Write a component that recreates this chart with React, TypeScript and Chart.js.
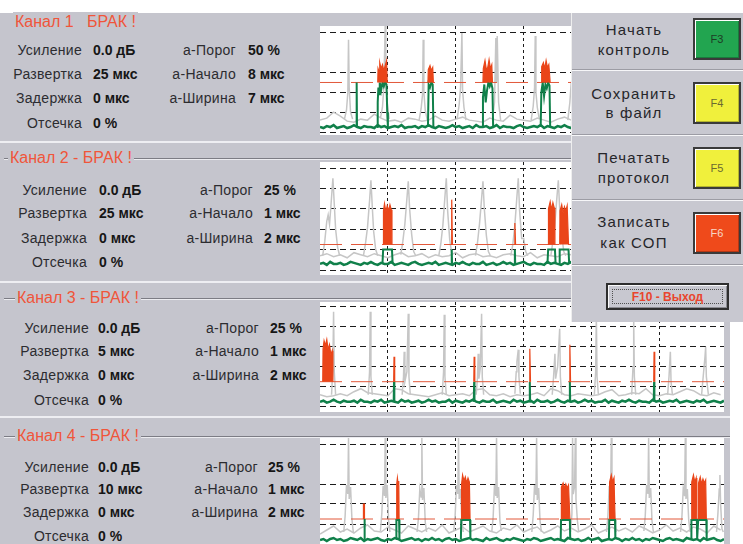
import React, { useEffect, useRef } from "react";
import { Chart, registerables } from "chart.js";

Chart.register(...registerables);

type Pt = [number, number];

// ---------------- data ----------------
const X_MAX = 5.95;
const xGridTicks = [1, 2, 3, 4, 5];
const yGridTicksFull = [0, 20, 40, 60, 80, 100];
const yGridTicksNo80 = [0, 20, 40, 60, 100];
const GRAY_STEP = 0.1;
const GREEN_STEP = 0.05;

// Channel 1
const ch1Threshold = 50;
const ch1GrayNoise = [12, 14, 20, 16, 11, 10, 13, 12, 18, 14, 11, 12, 10, 14, 13, 11, 12, 16, 12, 11, 13, 15, 12, 11, 10, 14, 12, 11, 17, 13, 12, 11, 14, 12, 10, 13, 15, 12, 11];
const ch1GrayPeaks: Pt[][] = [
  [[0.36, 13], [0.39, 22], [0.41, 40], [0.42, 93], [0.43, 45], [0.45, 20], [0.48, 13]],
  [[0.89, 14], [0.92, 25], [0.94, 45], [0.96, 107], [0.97, 50], [0.99, 30], [1.02, 13]],
  [[1.46, 12], [1.49, 24], [1.51, 38], [1.52, 93], [1.53, 40], [1.55, 22], [1.58, 12]],
  [[2.02, 13], [2.05, 28], [2.07, 45], [2.09, 100], [2.1, 42], [2.12, 25], [2.15, 12]],
  [[2.54, 13], [2.57, 30], [2.59, 95], [2.6, 50], [2.61, 97], [2.63, 30], [2.66, 12]],
  [[3.11, 12], [3.14, 26], [3.16, 45], [3.17, 97], [3.18, 40], [3.2, 25], [3.23, 13]],
  [[3.65, 12], [3.68, 30], [3.7, 50], [3.71, 100], [3.72, 45], [3.75, 20], [3.78, 12]],
];
const ch1GreenNoise = [5, 4, 6, 5, 7, 4, 5, 6, 4, 5, 7, 5, 4, 6, 5, 5, 4, 7, 5, 6, 4, 5, 6, 5, 7, 4, 5, 5, 6, 4, 6, 5, 7, 5, 4, 6, 5, 4, 5, 7, 5, 6, 4, 5, 6, 4, 7, 5, 5, 6, 4, 5, 7, 4, 6, 5, 5, 4, 6, 7, 5, 4, 5, 6, 5, 7, 4, 6, 5, 4, 6, 5, 7, 5, 4, 6];
const ch1GreenPulses: Pt[][] = [
  [[0.535, 5], [0.54, 50], [0.545, 5]],
  [[0.84, 5], [0.85, 30], [0.86, 45], [0.87, 38], [0.88, 50], [0.9, 42], [0.92, 50], [0.94, 46], [0.96, 50], [0.98, 48], [0.99, 20], [1.0, 5]],
  [[1.59, 5], [1.6, 48], [1.62, 45], [1.64, 50], [1.66, 48], [1.67, 5]],
  [[2.39, 5], [2.4, 35], [2.42, 48], [2.44, 30], [2.46, 42], [2.48, 50], [2.5, 46], [2.52, 50], [2.54, 44], [2.55, 5]],
  [[3.25, 5], [3.26, 40], [3.28, 50], [3.3, 36], [3.32, 48], [3.34, 44], [3.36, 50], [3.38, 47], [3.39, 5]],
  [[3.71, 5], [3.72, 48], [3.8, 48]],
];
const ch1RedBlobs: Pt[][] = [
  [[0.85, 50], [0.855, 64], [0.87, 61], [0.88, 70], [0.9, 64], [0.92, 68], [0.94, 62], [0.96, 67], [0.98, 72], [0.99, 50]],
  [[1.59, 50], [1.595, 63], [1.62, 67], [1.64, 62], [1.66, 65], [1.67, 50]],
  [[2.4, 50], [2.405, 64], [2.43, 72], [2.45, 63], [2.47, 65], [2.49, 73], [2.51, 64], [2.53, 68], [2.54, 50]],
  [[3.26, 50], [3.265, 66], [3.29, 70], [3.31, 64], [3.33, 72], [3.35, 65], [3.37, 68], [3.39, 50]],
  [[3.72, 50], [3.725, 62], [3.76, 66], [3.8, 60]],
];

// Channel 2
const ch2Threshold = 25;
const ch2GrayNoise = [14, 16, 13, 15, 12, 17, 15, 13, 16, 14, 12, 15, 17, 13, 14, 16, 12, 15, 13, 14, 17, 12, 15, 16, 13, 14, 12, 15, 16, 14, 13, 17, 12, 15, 14, 13, 16, 15, 14];
const ch2GrayPeaks: Pt[][] = [
  [[0.04, 14], [0.07, 28], [0.1, 48], [0.12, 54], [0.14, 45], [0.16, 62], [0.19, 90], [0.21, 65], [0.23, 40], [0.26, 22], [0.29, 14]],
  [[0.64, 14], [0.67, 26], [0.7, 42], [0.73, 68], [0.75, 88], [0.77, 62], [0.79, 38], [0.82, 20], [0.85, 14]],
  [[1.19, 15], [1.22, 28], [1.25, 45], [1.28, 70], [1.3, 87], [1.32, 60], [1.35, 35], [1.38, 18], [1.41, 14]],
  [[1.75, 14], [1.78, 26], [1.81, 44], [1.84, 72], [1.86, 90], [1.88, 58], [1.91, 30], [1.94, 16]],
  [[2.29, 14], [2.32, 27], [2.35, 46], [2.38, 70], [2.4, 87], [2.42, 60], [2.45, 34], [2.48, 18], [2.51, 14]],
  [[2.81, 14], [2.84, 25], [2.87, 44], [2.9, 72], [2.92, 90], [2.94, 58], [2.97, 31], [3.0, 31], [3.03, 18], [3.06, 14]],
  [[3.4, 14], [3.43, 28], [3.46, 46], [3.49, 72], [3.51, 88], [3.53, 60], [3.56, 35], [3.59, 18], [3.62, 14]],
];
const ch2GreenNoise = [6, 7, 5, 8, 6, 6, 7, 5, 6, 8, 7, 6, 5, 7, 6, 8, 6, 5, 7, 6, 6, 8, 5, 6, 7, 6, 5, 7, 8, 6, 5, 6, 7, 6, 8, 5, 6, 7, 6, 5, 7, 6, 8, 6, 5, 7, 6, 6, 8, 5, 6, 7, 5, 6, 8, 6, 7, 5, 6, 7, 8, 6, 5, 7, 6, 6, 5, 8, 6, 7, 6, 5, 7, 6, 8, 6];
const ch2GreenPulses: Pt[][] = [
  [[0.92, 6], [0.93, 20], [1.06, 20], [1.07, 6]],
  [[1.935, 6], [1.94, 20], [1.945, 6]],
  [[2.865, 6], [2.87, 20], [2.875, 6]],
  [[3.35, 6], [3.36, 20], [3.46, 20], [3.47, 6]],
  [[3.52, 6], [3.53, 20], [3.66, 20], [3.67, 6]],
];
const ch2RedBlobs: Pt[][] = [
  [[0.93, 25], [0.935, 58], [0.95, 65], [0.97, 57], [0.99, 63], [1.01, 58], [1.03, 64], [1.05, 59], [1.06, 25]],
  [[1.93, 25], [1.94, 69], [1.95, 25]],
  [[2.865, 25], [2.87, 46], [2.88, 25]],
  [[3.36, 25], [3.365, 60], [3.39, 67], [3.41, 59], [3.43, 66], [3.45, 61], [3.46, 25]],
  [[3.53, 25], [3.535, 58], [3.56, 64], [3.58, 56], [3.6, 62], [3.62, 58], [3.64, 63], [3.66, 25]],
];

// Channel 3
const ch3Threshold = 25;
const ch3GrayNoise = [12, 10, 11, 13, 11, 15, 18, 14, 13, 12, 11, 18, 17, 13, 12, 11, 10, 12, 14, 11, 12, 13, 11, 17, 18, 12, 11, 13, 10, 12, 11, 12, 14, 11, 18, 16, 12, 11, 13, 12, 11, 12, 15, 17, 11, 12, 14, 13, 18, 12, 11, 13, 12, 15, 18, 16, 12, 11, 14, 12];
const ch3GrayPeaks: Pt[][] = [
  [[0.17, 12], [0.19, 40], [0.2, 95], [0.21, 35], [0.23, 12]],
  [[0.71, 12], [0.73, 35], [0.74, 95], [0.75, 30], [0.77, 12]],
  [[1.21, 12], [1.23, 30], [1.24, 55], [1.25, 25], [1.28, 35], [1.3, 93], [1.31, 30], [1.33, 12]],
  [[1.8, 12], [1.82, 35], [1.83, 92], [1.84, 30], [1.86, 12]],
  [[2.3, 12], [2.32, 30], [2.33, 53], [2.34, 28], [2.36, 38], [2.38, 93], [2.39, 30], [2.41, 12]],
  [[2.87, 13], [2.89, 35], [2.9, 45], [2.92, 57], [2.93, 30], [2.95, 13]],
  [[3.42, 12], [3.44, 30], [3.46, 53], [3.47, 28], [3.5, 40], [3.53, 78], [3.54, 30], [3.56, 12]],
  [[4.04, 12], [4.06, 35], [4.07, 92], [4.08, 30], [4.1, 12]],
  [[4.59, 12], [4.61, 40], [4.62, 88], [4.63, 30], [4.65, 12]],
  [[5.12, 12], [5.14, 30], [5.16, 55], [5.17, 25], [5.19, 12]],
  [[5.62, 12], [5.65, 35], [5.67, 50], [5.68, 60], [5.69, 30], [5.72, 12]],
];
const ch3GreenNoise = [5, 6, 4, 5, 7, 5, 4, 6, 5, 5, 6, 4, 7, 5, 5, 4, 6, 5, 7, 4, 5, 6, 5, 4, 7, 5, 6, 4, 5, 6, 4, 5, 7, 5, 6, 4, 5, 5, 7, 4, 6, 5, 4, 6, 5, 7, 5, 4, 6, 5, 5, 7, 4, 5, 6, 5, 4, 7, 5, 6, 4, 5, 6, 4, 7, 5, 5, 6, 4, 5, 7, 5, 4, 6, 5, 6, 4, 5, 7, 5, 6, 4, 5, 5, 7, 4, 6, 5, 4, 6, 5, 7, 5, 4, 6, 5, 5, 4, 7, 5, 6, 4, 5, 6, 5, 7, 4, 5, 6, 5, 4, 6, 5, 7, 4, 5, 6, 5, 4, 6];
const ch3GreenPulses: Pt[][] = [
  [[1.085, 5], [1.09, 25], [1.095, 5]],
  [[2.265, 5], [2.27, 25], [2.275, 5]],
  [[3.085, 5], [3.09, 25], [3.095, 5]],
  [[3.675, 5], [3.68, 25], [3.685, 5]],
  [[4.915, 5], [4.92, 25], [4.925, 5]],
];
const ch3RedBlobs: Pt[][] = [
  [[0.04, 25], [0.045, 58], [0.06, 66], [0.08, 61], [0.1, 67], [0.12, 57], [0.14, 62], [0.16, 52], [0.18, 56], [0.19, 25]],
  [[1.085, 25], [1.09, 50], [1.1, 25]],
  [[2.265, 25], [2.27, 50], [2.28, 25]],
  [[3.085, 25], [3.09, 58], [3.1, 25]],
  [[3.675, 25], [3.68, 62], [3.69, 25]],
  [[4.915, 25], [4.92, 55], [4.93, 25]],
];

// Channel 4
const ch4Threshold = 25;
const ch4GrayNoise = [10, 14, 18, 12, 15, 11, 16, 19, 13, 12, 17, 14, 11, 18, 15, 12, 16, 13, 19, 11, 14, 17, 12, 15, 18, 13, 11, 16, 14, 19, 12, 15, 17, 11, 14, 18, 13, 16, 12, 15, 19, 11, 14, 17, 13, 16, 12, 18, 15, 11, 14, 19, 13, 16, 12, 17, 15, 11, 18, 14];
const ch4GrayPeaks: Pt[][] = [
  [[0.35, 12], [0.37, 28], [0.39, 59], [0.41, 50], [0.42, 106], [0.43, 45], [0.45, 57], [0.47, 25], [0.49, 12]],
  [[0.89, 13], [0.91, 30], [0.93, 58], [0.95, 48], [0.96, 106], [0.97, 46], [0.99, 59], [1.01, 24], [1.03, 12]],
  [[1.43, 12], [1.45, 26], [1.47, 55], [1.49, 47], [1.5, 106], [1.51, 44], [1.53, 56], [1.55, 22], [1.57, 12]],
  [[1.97, 13], [1.99, 28], [2.01, 59], [2.03, 50], [2.04, 106], [2.05, 45], [2.07, 55], [2.09, 24], [2.11, 12]],
  [[2.53, 12], [2.55, 27], [2.57, 59], [2.59, 48], [2.6, 106], [2.61, 46], [2.63, 57], [2.65, 23], [2.67, 13]],
  [[3.12, 12], [3.14, 29], [3.16, 59], [3.18, 49], [3.19, 106], [3.2, 44], [3.22, 56], [3.24, 24], [3.26, 12]],
  [[3.69, 12], [3.71, 30], [3.72, 106], [3.73, 50], [3.75, 58], [3.76, 106], [3.77, 45], [3.79, 24], [3.81, 12]],
  [[4.22, 12], [4.24, 28], [4.26, 58], [4.28, 48], [4.29, 106], [4.3, 45], [4.32, 57], [4.34, 24], [4.36, 12]],
  [[4.77, 13], [4.79, 28], [4.81, 59], [4.83, 50], [4.84, 106], [4.85, 46], [4.87, 56], [4.89, 23], [4.91, 12]],
  [[5.31, 12], [5.33, 27], [5.35, 56], [5.37, 48], [5.38, 106], [5.39, 45], [5.41, 55], [5.43, 24], [5.45, 12]],
  [[5.84, 12], [5.86, 30], [5.88, 55], [5.89, 69], [5.9, 40], [5.92, 15], [5.94, 12]],
];
const ch4GreenNoise = [4, 5, 3, 5, 6, 4, 5, 3, 4, 6, 5, 4, 6, 3, 5, 4, 5, 6, 4, 3, 5, 4, 6, 5, 3, 4, 5, 6, 4, 5, 3, 5, 4, 6, 4, 5, 3, 5, 6, 4, 5, 3, 4, 5, 6, 4, 5, 4, 3, 6, 4, 5, 6, 4, 3, 5, 4, 6, 5, 4, 3, 5, 4, 6, 5, 3, 4, 5, 6, 4, 5, 4, 3, 6, 5, 4, 5, 3, 4, 6, 4, 5, 6, 3, 4, 5, 4, 6, 5, 3, 5, 4, 6, 4, 5, 3, 5, 4, 6, 5, 4, 3, 5, 6, 4, 5, 4, 3, 6, 5, 4, 5, 3, 6, 4, 5, 6, 4, 3, 5];
const ch4GreenPulses: Pt[][] = [
  [[0.65, 5], [0.655, 25], [0.66, 5]],
  [[1.12, 5], [1.125, 24], [1.165, 24], [1.17, 5]],
  [[2.075, 5], [2.08, 24], [2.21, 24], [2.215, 5]],
  [[3.545, 5], [3.55, 24], [3.68, 24], [3.685, 5]],
  [[4.255, 5], [4.26, 24], [4.345, 24], [4.35, 5]],
  [[5.465, 5], [5.47, 24], [5.55, 24], [5.555, 5], [5.565, 5], [5.57, 24], [5.69, 24], [5.695, 5]],
];
const ch4RedBlobs: Pt[][] = [
  [[0.64, 25], [0.64, 40], [0.655, 40], [0.655, 25]],
  [[1.125, 25], [1.13, 60], [1.14, 66], [1.15, 60], [1.16, 63], [1.165, 25]],
  [[2.08, 25], [2.085, 60], [2.1, 69], [2.12, 63], [2.14, 67], [2.16, 61], [2.18, 66], [2.2, 62], [2.21, 25]],
  [[3.55, 25], [3.555, 57], [3.58, 61], [3.6, 56], [3.62, 60], [3.64, 56], [3.66, 59], [3.68, 25]],
  [[4.26, 25], [4.265, 62], [4.29, 69], [4.31, 62], [4.33, 66], [4.345, 25]],
  [[5.47, 25], [5.475, 62], [5.5, 69], [5.52, 62], [5.54, 66], [5.55, 25]],
  [[5.57, 25], [5.575, 61], [5.6, 67], [5.62, 60], [5.64, 65], [5.66, 61], [5.68, 64], [5.69, 25]],
];

// Text data
const channelTitles = ["Канал 1   БРАК !", "Канал 2 - БРАК !", "Канал 3 - БРАК !", "Канал 4 - БРАК !"];
const settingLabels = ["Усиление", "Развертка", "Задержка", "Отсечка"];
const gateLabels = ["а-Порог", "а-Начало", "а-Ширина"];
const ch1Settings = ["0.0 дБ", "25 мкс", "0 мкс", "0 %"];
const ch1Gate = ["50 %", "8 мкс", "7 мкс"];
const ch2Settings = ["0.0 дБ", "25 мкс", "0 мкс", "0 %"];
const ch2Gate = ["25 %", "1 мкс", "2 мкс"];
const ch3Settings = ["0.0 дБ", "5 мкс", "0 мкс", "0 %"];
const ch3Gate = ["25 %", "1 мкс", "2 мкс"];
const ch4Settings = ["0.0 дБ", "10 мкс", "0 мкс", "0 %"];
const ch4Gate = ["25 %", "1 мкс", "2 мкс"];
const buttonLabels = [["Начать", "контроль"], ["Сохранить", "в файл"], ["Печатать", "протокол"], ["Записать", "как СОП"]];
const buttonKeys = ["F3", "F4", "F5", "F6"];
const exitLabel = "F10 - Выход";

// ---------------- style ----------------
const FONT = 'Arial, "Liberation Sans", Helvetica, sans-serif';
const PANEL_BG = "#c5c5cd";
const GRAY = "#c6c6c6";
const GREEN = "#10804a";
const RED = "#ea4519";
const THR = "#e2583a";
const TITLE_RED = "#f0553a";
const KEY_COLORS = ["#22a550", "#f0f03c", "#f0f03c", "#ef4a1b"];
const KEY_TEXT = ["#1d3d25", "#6a6a30", "#6a6a30", "#f8d8c8"];

type ScopeSpec = {
  top: number; height: number; yMin: number; yMax: number; yTicks: number[];
  thr: number; grayNoise: number[]; grayPeaks: Pt[][]; greenNoise: number[]; greenPulses: Pt[][]; red: Pt[][];
};

const scopes: ScopeSpec[] = [
  { top: 26, height: 109, yMin: -3, yMax: 107, yTicks: yGridTicksNo80, thr: ch1Threshold, grayNoise: ch1GrayNoise, grayPeaks: ch1GrayPeaks, greenNoise: ch1GreenNoise, greenPulses: ch1GreenPulses, red: ch1RedBlobs },
  { top: 162, height: 113, yMin: -4.9, yMax: 105.9, yTicks: yGridTicksFull, thr: ch2Threshold, grayNoise: ch2GrayNoise, grayPeaks: ch2GrayPeaks, greenNoise: ch2GreenNoise, greenPulses: ch2GreenPulses, red: ch2RedBlobs },
  { top: 302, height: 110, yMin: -5.3, yMax: 104.7, yTicks: yGridTicksFull, thr: ch3Threshold, grayNoise: ch3GrayNoise, grayPeaks: ch3GrayPeaks, greenNoise: ch3GreenNoise, greenPulses: ch3GreenPulses, red: ch3RedBlobs },
  { top: 438, height: 111, yMin: -5, yMax: 106, yTicks: yGridTicksNo80, thr: ch4Threshold, grayNoise: ch4GrayNoise, grayPeaks: ch4GrayPeaks, greenNoise: ch4GreenNoise, greenPulses: ch4GreenPulses, red: ch4RedBlobs },
];

const withGaps = (segs: Pt[][]) =>
  segs.flatMap((s) => [...s.map(([x, y]) => ({ x, y })), { x: s[s.length - 1][0], y: null as any }]);
const series = (vals: number[], step: number) => vals.map((y, i) => ({ x: Math.round(i * step * 1000) / 1000, y }));

function Scope({ spec }: { spec: ScopeSpec }) {
  const ref = useRef<HTMLCanvasElement>(null);
  useEffect(() => {
    if (!ref.current) return;
    const line = (data: any[], color: string, width: number, order: number) => ({
      data, borderColor: color, backgroundColor: color, borderWidth: width, pointRadius: 0,
      fill: false as any, order, tension: 0, spanGaps: false,
    });
    const datasets: any[] = [
      line(series(spec.grayNoise, GRAY_STEP), GRAY, 1.5, 9),
      line(withGaps(spec.grayPeaks), GRAY, 1.5, 8),
      { ...line([{ x: 0, y: spec.thr }, { x: X_MAX, y: spec.thr }], THR, 1, 7), borderDash: [22, 9] },
      line(series(spec.greenNoise, GREEN_STEP), GREEN, 2.5, 6),
      line(withGaps(spec.greenPulses), GREEN, 2, 5),
      ...spec.red.map((b) => ({ ...line(b.map(([x, y]) => ({ x, y })), RED, 1.2, 1), fill: { value: spec.thr } })),
    ];
    const grid = { color: "#1c1c1c", lineWidth: 1, drawTicks: false };
    const chart = new Chart(ref.current, {
      type: "line",
      data: { datasets },
      options: {
        animation: false, responsive: false, maintainAspectRatio: false, events: [],
        layout: { padding: 0 },
        plugins: { legend: { display: false }, tooltip: { enabled: false }, title: { display: false } },
        scales: {
          x: {
            type: "linear", min: 0, max: X_MAX, ticks: { display: false }, grid,
            border: { display: false, dash: [3, 3] },
            afterBuildTicks: (a: any) => { a.ticks = xGridTicks.map((v) => ({ value: v })); },
          },
          y: {
            type: "linear", min: spec.yMin, max: spec.yMax, ticks: { display: false }, grid,
            border: { display: false, dash: [6, 4] },
            afterBuildTicks: (a: any) => { a.ticks = spec.yTicks.map((v) => ({ value: v })); },
          },
        },
      } as any,
    });
    return () => chart.destroy();
  }, [spec]);
  return (
    <canvas ref={ref} width={404} height={spec.height}
      style={{ position: "absolute", left: 320, top: spec.top, width: 404, height: spec.height, background: "#fff", display: "block" }} />
  );
}

type PanelGeo = { titleX: number; titleY: number; rows: number[]; lr1: number; v1: number; lr2: number; v2: number; frame: boolean };
const panelGeo: PanelGeo[] = [
  { titleX: 15, titleY: 22, rows: [50, 74, 98, 123], lr1: 82, v1: 93, lr2: 236, v2: 248, frame: false },
  { titleX: 10, titleY: 158, rows: [190, 213, 238, 262], lr1: 87, v1: 99, lr2: 253, v2: 264, frame: true },
  { titleX: 17, titleY: 298, rows: [328, 351, 375, 400], lr1: 89, v1: 98, lr2: 259, v2: 270, frame: true },
  { titleX: 17, titleY: 436, rows: [467, 489, 512, 536], lr1: 89, v1: 98, lr2: 258, v2: 268, frame: true },
];
const panelSettings = [ch1Settings, ch2Settings, ch3Settings, ch4Settings];
const panelGate = [ch1Gate, ch2Gate, ch3Gate, ch4Gate];

const abs = (s: React.CSSProperties): React.CSSProperties => ({ position: "absolute", ...s });

function Label({ right, left, cy, text, bold }: { right?: number; left?: number; cy: number; text: string; bold?: boolean }) {
  const base: React.CSSProperties = {
    top: cy - 8, height: 16, lineHeight: "16px", fontFamily: FONT, whiteSpace: "pre",
    fontSize: 14, fontWeight: bold ? 700 : 400, color: bold ? "#161616" : "#2c2c30", letterSpacing: bold ? 0 : 0.3,
  };
  if (right !== undefined) return <div style={abs({ ...base, left: 0, width: right, textAlign: "right" })}>{text}</div>;
  return <div style={abs({ ...base, left })}>{text}</div>;
}

function Panel({ i }: { i: number }) {
  const g = panelGeo[i];
  return (
    <>
      {g.frame && (
        <>
          <div style={abs({ left: 4, top: g.titleY, width: 726, height: 1, background: "#7c7c84" })} />
          <div style={abs({ left: 4, top: g.titleY + 1, width: 726, height: 1, background: "#ececf0" })} />
        </>
      )}
      <div style={abs({
        left: g.titleX - 2, top: g.titleY - 10, height: 20, lineHeight: "20px", padding: "0 2px",
        background: PANEL_BG, fontFamily: FONT, fontSize: 16, color: TITLE_RED, whiteSpace: "pre",
      })}>{channelTitles[i]}</div>
      {settingLabels.map((t, r) => <Label key={"l" + r} right={g.lr1} cy={g.rows[r]} text={t} />)}
      {panelSettings[i].map((t, r) => <Label key={"v" + r} left={g.v1} cy={g.rows[r]} text={t} bold />)}
      {gateLabels.map((t, r) => <Label key={"g" + r} right={g.lr2} cy={g.rows[r]} text={t} />)}
      {panelGate[i].map((t, r) => <Label key={"w" + r} left={g.v2} cy={g.rows[r]} text={t} bold />)}
    </>
  );
}

const buttonLineY = [[30, 50], [94, 113], [158, 178], [222, 243]];
const keyTops = [18, 82, 147, 212];
const sepY = [70, 135, 200, 265];

function ButtonPanel() {
  return (
    <div style={abs({ left: 571, top: 13, width: 172, height: 309, background: "#c8c8d0", borderLeft: "1px solid #eeeeee" })}>
      {sepY.map((y, k) => (
        <React.Fragment key={k}>
          <div style={abs({ left: 0, top: y - 13 - 1, width: 172, height: 1, background: "#9c9ca4" })} />
          <div style={abs({ left: 0, top: y - 13, width: 172, height: 1, background: "#f6f6f8" })} />
        </React.Fragment>
      ))}
      {buttonLabels.map((lines, k) => (
        <React.Fragment key={k}>
          {lines.map((t, j) => (
            <div key={j} style={abs({
              left: 0, width: 124, top: buttonLineY[k][j] - 13 - 10, height: 20, lineHeight: "20px", textAlign: "center",
              fontFamily: FONT, fontSize: 15, letterSpacing: 1.2, color: "#26262a",
            })}>{t}</div>
          ))}
          <div style={abs({
            left: 692 - 571, top: keyTops[k] - 13, width: 48, height: 42, boxSizing: "border-box",
            background: KEY_COLORS[k], border: "2px solid #3a3a3a", boxShadow: "inset 1px 1px 0 #ffffff, inset -1px -1px 0 rgba(0,0,0,0.25)",
            display: "flex", alignItems: "center", justifyContent: "center",
            fontFamily: FONT, fontSize: 11, color: KEY_TEXT[k],
          })}>{buttonKeys[k]}</div>
        </React.Fragment>
      ))}
      <div style={abs({
        left: 605 - 571, top: 283 - 13, width: 123, height: 27, boxSizing: "border-box",
        border: "2px solid #2e2e2e", boxShadow: "inset 1px 1px 0 #fafafa, inset -1px -1px 0 #8a8a90", background: "#c8c8d0",
      })}>
        <div style={abs({
          left: 4, top: 4, right: 4, bottom: 4, border: "1px dotted #505050",
          display: "flex", alignItems: "center", justifyContent: "center",
          fontFamily: FONT, fontSize: 12, fontWeight: 700, color: "#e8452e",
        })}>{exitLabel}</div>
      </div>
    </div>
  );
}

export default function App() {
  return (
    <div style={{ position: "absolute", left: 0, top: 0, width: 743, height: 544, overflow: "hidden", background: "#ffffff" }}>
      <div style={abs({ left: 0, top: 13, width: 730, height: 531, background: PANEL_BG })} />
      {[141, 281, 416].map((y) => (
        <div key={y} style={abs({ left: 0, top: y, width: 730, height: 2, background: "#eeeef2" })} />
      ))}
      {panelGeo.map((_, i) => <Panel key={i} i={i} />)}
      {scopes.map((s, i) => <Scope key={i} spec={s} />)}
      <ButtonPanel />
    </div>
  );
}
